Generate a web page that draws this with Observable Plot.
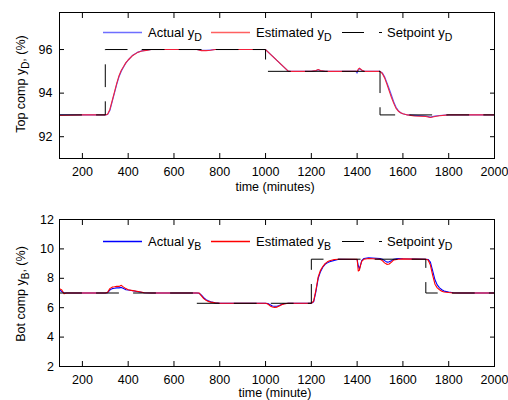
<!DOCTYPE html>
<html><head><meta charset="utf-8">
<script src="https://cdn.jsdelivr.net/npm/d3@7"></script>
<script src="https://cdn.jsdelivr.net/npm/@observablehq/plot@0.6"></script>
<style>body{margin:0;background:#fff} svg{display:block}</style>
</head><body><div id="c"></div>
<script>
// ---------- data ----------
const xTicks = [200,400,600,800,1000,1200,1400,1600,1800,2000];

// Top panel: distillate composition y_D
const timeTop = [100,200,300,310,320,330,340,350,360,370,380,390,400,420,440,460,480,500,700,720,740,760,780,1000,1100,1200,1220,1230,1240,1260,1395,1400,1405,1410,1420,1430,1500,1510,1520,1530,1540,1550,1560,1570,1580,1590,1600,1620,1650,1700,1720,1740,1760,1800,2000];
const actualYD = [93.0,93.0,93.0,93.02,93.2,93.6,94.0,94.4,94.75,95.0,95.2,95.38,95.52,95.74,95.87,95.94,95.97,96.0,96.0,95.97,95.96,95.98,96.0,96.0,95.0,95.0,95.03,95.07,95.03,95.0,95.0,94.92,95.05,95.12,95.05,95.0,95.0,94.93,94.75,94.48,94.2,93.9,93.6,93.35,93.2,93.1,93.05,93.0,92.98,92.95,92.9,92.95,92.97,93.0,93.0];
const estimatedYD = [92.97,93.0,93.0,93.03,93.25,93.65,94.05,94.45,94.8,95.05,95.22,95.4,95.52,95.73,95.86,95.93,95.96,96.0,96.0,95.95,95.95,95.97,96.0,96.0,95.0,95.0,95.04,95.08,95.04,95.0,95.0,95.0,95.1,95.15,95.06,95.0,95.0,94.9,94.7,94.42,94.1,93.8,93.53,93.3,93.17,93.1,93.05,93.0,92.95,92.93,92.88,92.93,92.96,93.0,93.0];
const spTimeTop = [100,300,1000,1500,2000];
const setpointYD = [93,96,95,93,93];
const yTicksTop = [92,94,96];

// Bottom panel: bottoms composition y_B
const timeBot = [100,110,120,130,300,310,320,330,340,350,360,370,380,390,400,420,450,470,500,700,710,720,730,740,750,760,780,800,1000,1010,1020,1030,1040,1050,1060,1070,1080,1100,1200,1210,1220,1230,1240,1250,1260,1270,1280,1300,1320,1400,1405,1410,1415,1420,1430,1450,1500,1510,1520,1530,1540,1550,1560,1580,1600,1700,1710,1720,1730,1740,1750,1760,1770,1780,1800,1820,1850,2000];
const actualYB = [7.2,7.1,7.0,7.0,7.0,7.02,7.2,7.3,7.32,7.35,7.35,7.38,7.3,7.22,7.2,7.15,7.07,7.02,7.0,7.0,6.98,6.85,6.68,6.55,6.47,6.4,6.33,6.3,6.3,6.28,6.2,6.12,6.1,6.1,6.15,6.22,6.27,6.3,6.3,6.4,7.1,8.0,8.45,8.75,8.95,9.05,9.13,9.22,9.3,9.28,8.85,8.65,8.9,9.2,9.35,9.4,9.35,9.3,9.2,9.1,9.12,9.2,9.3,9.35,9.33,9.3,9.28,9.1,8.5,7.9,7.55,7.35,7.22,7.13,7.07,7.02,7.0,7.0];
const estimatedYB = [7.3,7.2,6.95,7.0,7.0,7.05,7.3,7.4,7.42,7.45,7.45,7.52,7.4,7.3,7.22,7.16,7.08,7.02,7.0,7.0,7.0,6.8,6.62,6.5,6.43,6.38,6.33,6.3,6.3,6.25,6.12,6.05,6.02,6.04,6.12,6.2,6.26,6.3,6.3,6.45,7.2,8.1,8.55,8.8,9.0,9.12,9.2,9.28,9.3,9.3,8.5,8.55,8.9,9.15,9.3,9.35,9.3,9.2,9.05,8.95,8.97,9.1,9.25,9.3,9.32,9.3,9.25,8.9,8.2,7.6,7.35,7.22,7.12,7.07,7.03,7.0,7.0,7.0];
const spTimeBot = [100,700,1200,1700,2000];
const setpointYB = [7.0,6.3,9.3,7.0,7.0];
const yTicksBot = [2,4,6,8,10,12];

// ---------- drawing ----------
const FONT = "Liberation Sans, Arial, Helvetica, sans-serif";
const fmt = d3.format("d");

function panel(cfg) {
  const act = cfg.t.map((t, i) => ({t, v: cfg.act[i]}));
  const est = cfg.t.map((t, i) => ({t, v: cfg.est[i]}));
  const sp = cfg.spT.map((t, i) => ({t, v: cfg.spV[i]}));
  const svg = Plot.plot({
    width: 508, height: 200,
    marginLeft: 59, marginRight: 14, marginTop: cfg.mt, marginBottom: cfg.mb,
    style: {fontFamily: FONT, fontSize: "12.5px", background: "white", color: "black", overflow: "visible"},
    x: {domain: [100, 2000]},
    y: {domain: cfg.yDomain},
    marks: [
      Plot.line(act, {x: "t", y: "v", stroke: cfg.colors[0], strokeWidth: 1.1}),
      Plot.line(est, {x: "t", y: "v", stroke: cfg.colors[1], strokeWidth: 1.1}),
      Plot.line(sp, {x: "t", y: "v", curve: "step-after", stroke: "black", strokeWidth: 1, strokeDasharray: "22,15"}),
      Plot.frame({stroke: "black", strokeWidth: 1}),
      Plot.axisX(xTicks, {anchor: "bottom", tickSize: 0, tickPadding: 9, label: null, tickFormat: fmt}),
      Plot.axisX(xTicks, {anchor: "bottom", tickSize: -5, fill: "none", label: null}),
      Plot.axisX(xTicks, {anchor: "top", tickSize: -5, fill: "none", label: null}),
      Plot.axisY(cfg.yTicks, {anchor: "left", tickSize: 0, tickPadding: cfg.yPad, label: null, tickFormat: fmt}),
      Plot.axisY(cfg.yTicks, {anchor: "left", tickSize: -5, fill: "none", label: null}),
      Plot.axisY(cfg.yTicks, {anchor: "right", tickSize: -5, fill: "none", label: null})
    ]
  });
  const g = d3.select(svg).append("g").attr("font-family", FONT).attr("fill", "black")
    .attr("text-anchor", "start");
  // legend
  const ly = cfg.legendY;
  const items = [
    {x1: 103, x2: 142, color: cfg.legendColors[0], tx: 148, label: "Actual y", sub: cfg.sub},
    {x1: 211, x2: 250, color: cfg.legendColors[1], tx: 256, label: "Estimated y", sub: cfg.sub},
    {x1: 342, x2: 382, color: "black", tx: 387, label: "Setpoint y", sub: "D", dash: "22,15"}
  ];
  for (const it of items) {
    const ln = g.append("line").attr("x1", it.x1).attr("x2", it.x2).attr("y1", ly).attr("y2", ly)
      .attr("stroke", it.color).attr("stroke-width", 1.4);
    if (it.dash) ln.attr("stroke-dasharray", it.dash).attr("stroke-width", 1.2);
    const tx = g.append("text").attr("x", it.tx).attr("y", ly + 4).attr("font-size", 13)
      .attr("text-anchor", "start");
    tx.append("tspan").text(it.label);
    tx.append("tspan").attr("dy", 4).attr("font-size", 10.5).text(it.sub);
  }
  // x label
  g.append("text").attr("x", 275).attr("y", cfg.xLabelY).attr("text-anchor", "middle")
    .attr("font-size", 12.5).text(cfg.xLabel);
  // y label
  const yl = g.append("text").attr("transform", `translate(24.5,${cfg.yLabelY}) rotate(-90)`)
    .attr("text-anchor", "middle").attr("font-size", 12.5);
  yl.append("tspan").text(cfg.yLabel[0]);
  yl.append("tspan").attr("dy", 4).attr("font-size", 10).text(cfg.yLabel[1]);
  yl.append("tspan").attr("dy", -4).text(cfg.yLabel[2]);
  return svg;
}

const root = document.getElementById("c");
root.appendChild(panel({
  t: timeTop, act: actualYD, est: estimatedYD, spT: spTimeTop, spV: setpointYD,
  yDomain: [91, 97.7], yTicks: yTicksTop, yPad: 7, mt: 12, mb: 42,
  colors: ["#5a5aff", "#f2203c"], legendColors: ["#6e6eff", "#ff6060"], sub: "D", legendY: 32.5,
  xLabel: "time (minutes)", xLabelY: 190.5,
  yLabel: ["Top comp y", "D", ", (%)"], yLabelY: 84
}));
root.appendChild(panel({
  t: timeBot, act: actualYB, est: estimatedYB, spT: spTimeBot, spV: setpointYB,
  yDomain: [2, 12], yTicks: yTicksBot, yPad: 5.5, mt: 19, mb: 34,
  colors: ["#0000ff", "#ff0000"], legendColors: ["#0000ff", "#ff0000"], sub: "B", legendY: 41.5,
  xLabel: "time (minute)", xLabelY: 197,
  yLabel: ["Bot comp y", "B", ", (%)"], yLabelY: 94
}));
</script></body></html>
